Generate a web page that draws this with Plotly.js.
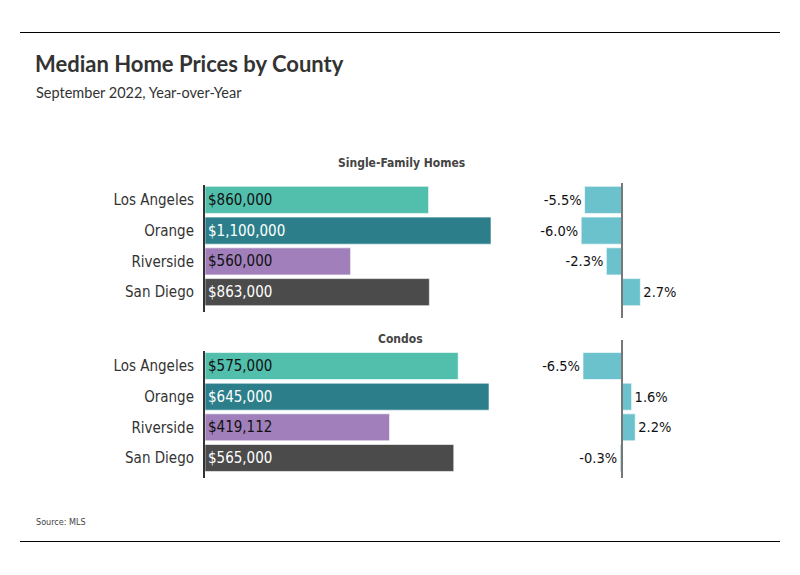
<!DOCTYPE html>
<html><head><meta charset="utf-8">
<script src="https://cdn.plot.ly/plotly-3.0.1.min.js"></script>
<style>html,body{margin:0;padding:0;background:#fff}#c{width:800px;height:575px}</style>
</head><body><div id="c"></div>
<script>
const counties = ["Los Angeles", "Orange", "Riverside", "San Diego"];
const sfPrices = [860000, 1100000, 560000, 863000];
const sfChange = [-5.5, -6.0, -2.3, 2.7];
const condoPrices = [575000, 645000, 419112, 565000];
const condoChange = [-6.5, 1.6, 2.2, -0.3];
const countyColors = ["#52BEAC", "#2C7F8A", "#A07FBA", "#4B4B4B"];
const labelColors = ["#111111", "#FFFFFF", "#111111", "#FFFFFF"];
const changeColor = "#6BC1CC";

const W = 800, H = 575;
const FONT = "'DejaVu Sans Condensed', 'Liberation Sans Narrow', sans-serif";
const TFONT = "Lato, 'DejaVu Sans Condensed', sans-serif";
const px = v => v / W;
const py = v => 1 - v / H;

const priceFmt = v => "$" + v.toLocaleString("en-US");
const pctFmt = v => v.toFixed(1) + "%";

function priceTrace(vals, xa, ya) {
  return {
    type: "bar", orientation: "h", x: vals, y: counties, xaxis: xa, yaxis: ya,
    marker: {color: countyColors, line: {color: "rgba(255,255,255,0.6)", width: 1}},
    text: vals.map(priceFmt), textposition: "inside", insidetextanchor: "start",
    textfont: {family: FONT, size: 15, color: labelColors}, constraintext: "none",
    hoverinfo: "skip", cliponaxis: false
  };
}
function changeTrace(vals, xa, ya) {
  return {
    type: "bar", orientation: "h", x: vals, y: counties, xaxis: xa, yaxis: ya,
    marker: {color: changeColor, line: {color: "rgba(255,255,255,0.6)", width: 1}},
    text: vals.map(pctFmt), textposition: "outside",
    textfont: {family: FONT, size: 14.5, color: "#111111"}, constraintext: "none",
    hoverinfo: "skip", cliponaxis: false
  };
}

const data = [
  priceTrace(sfPrices, "x", "y"),
  changeTrace(sfChange, "x2", "y2"),
  priceTrace(condoPrices, "x3", "y3"),
  changeTrace(condoChange, "x4", "y4")
];

const sfDom = [py(307.5), py(184.5)];
const cdDom = [py(473.3), py(350.7)];
const yBase = {type: "category", range: [3.5, -0.5], fixedrange: true, showgrid: false, zeroline: false};
const yLabeled = Object.assign({}, yBase, {
  showline: true, linecolor: "#333333", linewidth: 2, ticks: "", ticklabelstandoff: 6,
  tickfont: {family: FONT, size: 15, color: "#333333"}
});
const xHidden = {visible: false, fixedrange: true, showgrid: false, zeroline: false};

const sfChangeRange = [(560 - 622) / 6.8, (680 - 622) / 6.8];
const cdChangeRange = [(560 - 622) / 6.0, (680 - 622) / 6.0];

const layout = {
  width: W, height: H, margin: {l: 0, r: 0, t: 0, b: 0},
  paper_bgcolor: "#fff", plot_bgcolor: "rgba(0,0,0,0)",
  showlegend: false, bargap: 0.12,
  font: {family: FONT, color: "#333"},
  title: {text: "<b>Median Home Prices by County</b>", x: px(35), xanchor: "left", xref: "paper",
          y: py(64), yanchor: "middle", yref: "paper",
          font: {family: TFONT, size: 22, color: "#333333"}},
  xaxis: Object.assign({}, xHidden, {domain: [px(205), px(491)], range: [0, 1100000], anchor: "y"}),
  yaxis: Object.assign({}, yLabeled, {domain: sfDom, anchor: "x"}),
  xaxis2: Object.assign({}, xHidden, {domain: [px(560), px(680)], range: sfChangeRange, anchor: "y2"}),
  yaxis2: Object.assign({}, yBase, {visible: false, domain: sfDom, anchor: "x2"}),
  xaxis3: Object.assign({}, xHidden, {domain: [px(205), px(489)], range: [0, 645000], anchor: "y3"}),
  yaxis3: Object.assign({}, yLabeled, {domain: cdDom, anchor: "x3"}),
  xaxis4: Object.assign({}, xHidden, {domain: [px(560), px(680)], range: cdChangeRange, anchor: "y4"}),
  yaxis4: Object.assign({}, yBase, {visible: false, domain: cdDom, anchor: "x4"}),
  shapes: [
    {type: "line", xref: "paper", yref: "paper", x0: px(20), x1: px(780), y0: py(32.5), y1: py(32.5), line: {color: "#000", width: 1}},
    {type: "line", xref: "paper", yref: "paper", x0: px(20), x1: px(780), y0: py(541.5), y1: py(541.5), line: {color: "#000", width: 1}},
    {type: "line", xref: "x2", yref: "paper", x0: 0, x1: 0, y0: py(183), y1: py(318), line: {color: "#777", width: 2}},
    {type: "line", xref: "x4", yref: "paper", x0: 0, x1: 0, y0: py(340), y1: py(478), line: {color: "#777", width: 2}},
    {type: "line", xref: "paper", yref: "paper", x0: px(204), x1: px(204), y0: py(307), y1: py(312), line: {color: "#333", width: 2}},
    {type: "line", xref: "paper", yref: "paper", x0: px(204), x1: px(204), y0: py(473), y1: py(478), line: {color: "#333", width: 2}}
  ],
  annotations: [
    {text: "September 2022, Year-over-Year", xref: "paper", yref: "paper", x: px(34), y: py(92),
     xanchor: "left", yanchor: "middle", showarrow: false, font: {family: TFONT, size: 14.5, color: "#333"}},
    {text: "<b>Single-Family Homes</b>", xref: "paper", yref: "paper", x: px(401), y: py(163),
     xanchor: "center", yanchor: "middle", showarrow: false, font: {family: FONT, size: 12, color: "#444"}},
    {text: "<b>Condos</b>", xref: "paper", yref: "paper", x: px(400), y: py(339),
     xanchor: "center", yanchor: "middle", showarrow: false, font: {family: FONT, size: 12, color: "#444"}},
    {text: "Source: MLS", xref: "paper", yref: "paper", x: px(34), y: py(522),
     xanchor: "left", yanchor: "middle", showarrow: false, font: {family: FONT, size: 9, color: "#444"}}
  ]
};

Plotly.newPlot("c", data, layout, {staticPlot: true, displayModeBar: false});
</script></body></html>
